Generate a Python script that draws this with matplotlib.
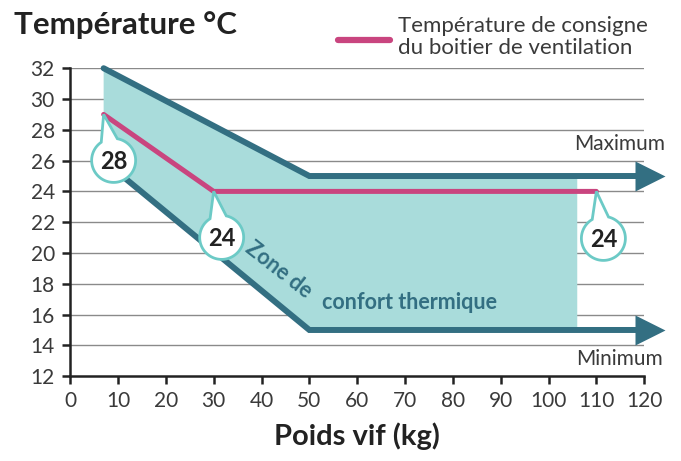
import numpy as np
from matplotlib import pyplot as plt
from matplotlib.patches import Polygon
import matplotlib.transforms as mtransforms

plt.rcParams['font.family'] = ['Lato', 'DejaVu Sans']

# data
weight = [7, 50, 124]           # kg, breakpoints of limits
temp_max = [32, 25, 25]
temp_min = [26, 15, 15]
zone_end = 106                   # right edge of comfort zone
set_weight = [7, 30, 110]
set_temp = [29, 24, 24]
label_temp = [28, 24, 24]
xticks = list(range(0, 121, 10))
yticks = list(range(12, 33, 2))

dark = '#336f82'
fill_c = '#a9dcdb'
pink = '#c9457f'
bubble_c = '#6ccac6'
txt_c = '#3a3a3a'

fig = plt.figure(figsize=(6.81, 4.61), dpi=100)
ax = fig.add_axes([0.103, 0.184, 0.843, 0.668])
ax.set_xlim(0, 120)
ax.set_ylim(12, 32)

for y in yticks[1:]:
	ax.axhline(y, color='#8a8a8a', lw=1.0, zorder=1)

# comfort zone
zx = [weight[0], weight[1], zone_end, zone_end, weight[1], weight[0]]
zy = [temp_max[0], temp_max[1], temp_max[1], temp_min[1], temp_min[1], temp_min[0]]
ax.add_patch(Polygon(list(zip(zx, zy)), closed=True, facecolor=fill_c, edgecolor='none', zorder=2))

# limit lines with arrows
for t in (temp_max, temp_min):
	ax.plot(weight[:2] + [119], t, color=dark, lw=4.3, solid_capstyle='round',
			solid_joinstyle='miter', clip_on=False, zorder=3)
	ax.plot([121.2], [t[-1]], marker='>', ms=21, color=dark, mec='none', clip_on=False, zorder=3)

ax.plot(set_weight, set_temp, color=pink, lw=3.6, solid_capstyle='round', zorder=4, clip_on=False)

# bubbles
def bubble(x, y, txt, dx, dy, r=0.22):
	tip = np.array([0.0, 0.0])
	c = np.array([dx, dy])
	ang = np.arctan2(-dy, -dx)
	half = np.radians(22)
	th = np.linspace(ang + half, ang + 2 * np.pi - half, 80)
	pts = [tip] + [c + r * np.array([np.cos(a), np.sin(a)]) for a in th] + [tip]
	tr = fig.dpi_scale_trans + mtransforms.ScaledTranslation(x, y, ax.transData)
	ax.add_patch(Polygon(pts, closed=True, facecolor='white', edgecolor=bubble_c, lw=2.0,
						 transform=tr, zorder=6, clip_on=False))
	ax.text(dx, dy - 0.01, txt, transform=tr, ha='center', va='center', fontsize=17,
			fontweight='bold', color='#222222', zorder=7)

bubble(set_weight[0], set_temp[0], str(label_temp[0]), 0.10, -0.46)
bubble(set_weight[1], set_temp[1], str(label_temp[1]), 0.08, -0.46)
bubble(set_weight[2], set_temp[2], str(label_temp[2]), 0.07, -0.47)

ax.text(43.5, 18.9, 'Zone de', rotation=-38, ha='center', va='center', fontsize=15.5,
		fontweight='bold', color=dark, zorder=5)
ax.text(71.0, 16.8, 'confort thermique', ha='center', va='center', fontsize=15.5,
		fontweight='bold', color=dark, zorder=5)

ax.text(124.3, 27.1, 'Maximum', ha='right', va='center', fontsize=15, color=txt_c)
ax.text(123.8, 13.1, 'Minimum', ha='right', va='center', fontsize=15, color=txt_c)

for s in ('top', 'right'):
	ax.spines[s].set_visible(False)
for s in ('left', 'bottom'):
	ax.spines[s].set_linewidth(1.8)
	ax.spines[s].set_color('#222222')
ax.set_xticks(xticks)
ax.set_yticks(yticks)
ax.tick_params(axis='both', length=6, width=1.8, color='#222222', labelsize=15,
			   labelcolor=txt_c, pad=5)
ax.set_xlabel('Poids vif (kg)', fontsize=21, fontweight='bold', color='#222222', labelpad=8)

fig.text(0.02, 0.945, 'Température °C', fontsize=22.5, fontweight='bold', color='#222222', va='center')
fig.add_artist(plt.Line2D([0.497, 0.573], [0.913, 0.913], color=pink, lw=4.5,
						  solid_capstyle='round'))
fig.text(0.585, 0.92, 'Température de consigne\ndu boitier de ventilation', fontsize=16,
		 color=txt_c, va='center', linespacing=1.15)

fig.savefig('out.png', dpi=100)
